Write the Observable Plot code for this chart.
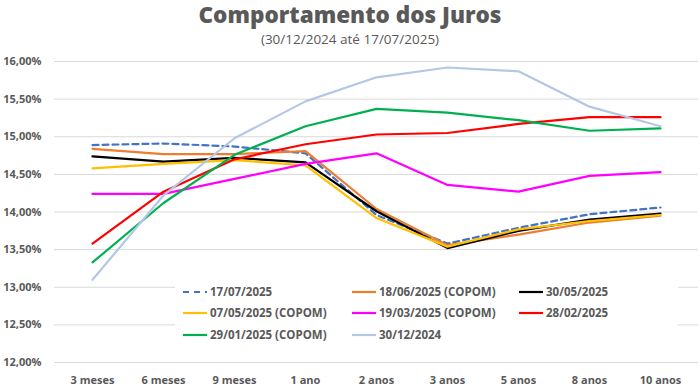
<!DOCTYPE html>
<html>
<head>
<meta charset="utf-8">
<script src="https://cdn.jsdelivr.net/npm/d3@7"></script>
<script src="https://cdn.jsdelivr.net/npm/@observablehq/plot@0.6"></script>
<style>
  html, body { margin: 0; padding: 0; background: #fff; }
  body { width: 700px; height: 389px; position: relative; overflow: hidden; font-family: "Open Sans", sans-serif; }
  #title { position: absolute; left: 0; top: 0; width: 700px; text-align: center; font-size: 22.5px; font-weight: 800; color: #595959; line-height: 30px; }
  #subtitle { position: absolute; left: 0; top: 30px; width: 700px; text-align: center; font-size: 13.5px; color: #595959; line-height: 19px; }
  #chart { position: absolute; left: 0; top: 50px; }
  #legend { position: absolute; left: 175px; top: 280px; width: 503px; height: 64px; background: #fff; }
  .item { position: absolute; font-size: 11.5px; font-weight: 700; color: #595959; white-space: nowrap; line-height: 16px; }
  .item svg { position: absolute; left: 0; top: 0; }
  .item span { position: absolute; top: 0; }
</style>
</head>
<body>
<div id="title">Comportamento dos Juros</div>
<div id="subtitle">(30/12/2024 até 17/07/2025)</div>
<div id="chart"></div>
<div id="legend"></div>
<script>
const tenors = ["3 meses","6 meses","9 meses","1 ano","2 anos","3 anos","5 anos","8 anos","10 anos"];
const seriesNames = ["17/07/2025","18/06/2025 (COPOM)","30/05/2025","07/05/2025 (COPOM)","19/03/2025 (COPOM)","28/02/2025","29/01/2025 (COPOM)","30/12/2024"];
const seriesColors = ["#4472C4","#ED7D31","#000000","#FFC000","#FF00FF","#FF0000","#00B050","#B4C7E7"];
const yTicks = [12, 12.5, 13, 13.5, 14, 14.5, 15, 15.5, 16];

const s_17_07 = [14.89, 14.91, 14.87, 14.78, 13.96, 13.58, 13.79, 13.97, 14.06];
const s_18_06 = [14.84, 14.77, 14.77, 14.81, 14.04, 13.56, 13.70, 13.86, 13.95];
const s_30_05 = [14.74, 14.67, 14.72, 14.66, 14.01, 13.52, 13.75, 13.90, 13.98];
const s_07_05 = [14.58, 14.64, 14.69, 14.62, 13.92, 13.54, 13.77, 13.88, 13.96];
const s_19_03 = [14.24, 14.24, 14.44, 14.64, 14.78, 14.36, 14.27, 14.48, 14.53];
const s_28_02 = [13.58, 14.27, 14.70, 14.90, 15.03, 15.05, 15.17, 15.26, 15.26];
const s_29_01 = [13.33, 14.12, 14.76, 15.14, 15.37, 15.32, 15.22, 15.08, 15.11];
const s_30_12 = [13.10, 14.22, 14.98, 15.47, 15.79, 15.92, 15.87, 15.40, 15.14];

const allValues = [s_17_07, s_18_06, s_30_05, s_07_05, s_19_03, s_28_02, s_29_01, s_30_12];
const rows = [];
seriesNames.forEach((name, i) => {
  allValues[i].forEach((v, j) => rows.push({series: name, tenor: tenors[j], value: v}));
});

const fmt = d => d.toFixed(2).replace(".", ",") + "%";

const lineMarks = seriesNames.map((name, i) => Plot.line(rows.filter(r => r.series === name), {
  x: "tenor", y: "value", stroke: "series",
  strokeWidth: 2.2,
  strokeDasharray: i === 0 ? "6,4" : null
}));

const chart = Plot.plot({
  width: 700,
  height: 339,
  marginTop: 11,
  marginBottom: 27,
  marginLeft: 54,
  marginRight: 2,
  style: { fontFamily: "Open Sans, sans-serif", fontSize: "11px", fontWeight: 700, color: "#595959", background: "#fff" },
  x: { type: "point", domain: tenors, padding: 0.5, label: null, tickSize: 0, tickPadding: 14 },
  y: { domain: [12, 16], ticks: yTicks, tickFormat: fmt, label: null, tickSize: 0, tickPadding: 13 },
  color: { domain: seriesNames, range: seriesColors },
  marks: [
    Plot.gridY(yTicks, { stroke: "#d9d9d9", strokeOpacity: 1, strokeWidth: 1 }),
    ...lineMarks
  ]
});
document.getElementById("chart").appendChild(chart);

// Legend (HTML overlay)
const legend = document.getElementById("legend");
const colX = [8, 177, 344];
const rowY = [4, 25, 47];
seriesNames.forEach((name, i) => {
  const c = i % 3, r = Math.floor(i / 3);
  const it = document.createElement("div");
  it.className = "item";
  it.style.left = colX[c] + "px";
  it.style.top = rowY[r] + "px";
  it.style.width = "160px";
  it.style.height = "16px";
  const sw = d3.create("svg").attr("width", 26).attr("height", 16);
  sw.append("line").attr("x1", 0).attr("x2", 24).attr("y1", 8).attr("y2", 8)
    .attr("stroke", seriesColors[i]).attr("stroke-width", 2.2)
    .attr("stroke-dasharray", i === 0 ? "6,5" : null);
  it.appendChild(sw.node());
  const sp = document.createElement("span");
  sp.style.left = "27px";
  sp.textContent = name;
  it.appendChild(sp);
  legend.appendChild(it);
});
</script>
</body>
</html>
